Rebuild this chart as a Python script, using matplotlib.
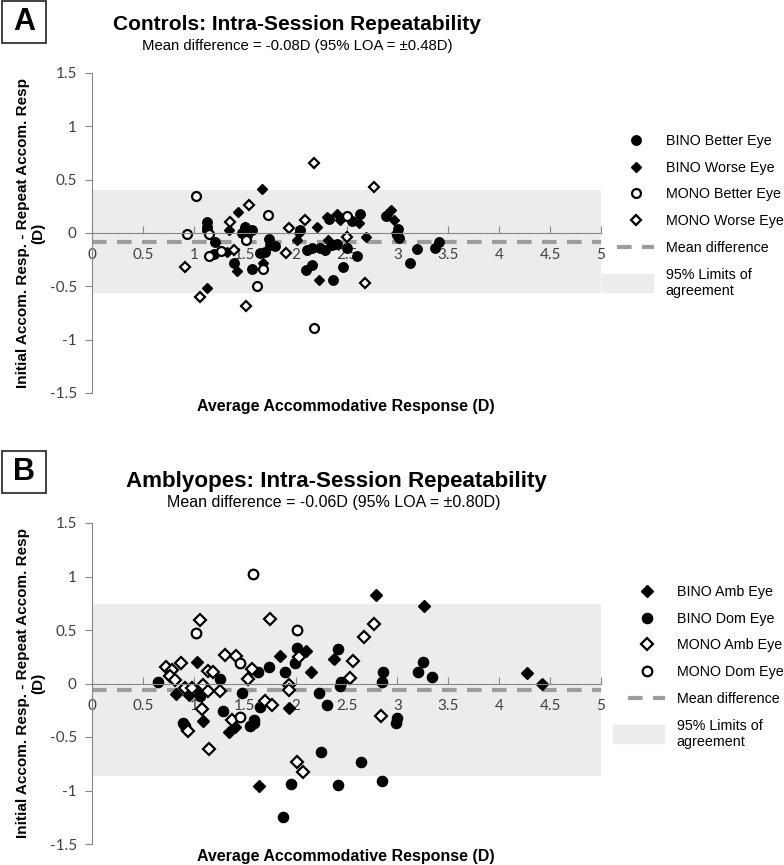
import numpy as np
import matplotlib.pyplot as plt
from matplotlib.patches import Rectangle, Patch
from matplotlib.lines import Line2D
from matplotlib.legend_handler import HandlerPatch
from matplotlib.ticker import FuncFormatter, MultipleLocator

plt.rcParams['font.family'] = ['Liberation Sans', 'DejaVu Sans']

#
# Panel A: controls (average response, difference)
#
ctl_bino_better_x = [1.13, 1.13, 1.13, 1.21, 1.20, 1.39, 1.50, 1.57, 1.47, 1.52, 1.74, 1.75, 1.80, 1.65,
                     1.70, 1.57, 2.04, 2.11, 2.10, 2.16, 2.37, 2.47, 2.60, 2.50, 2.16, 2.24, 2.29, 2.36,
                     2.41, 2.33, 2.55, 2.63, 2.89, 3.01, 3.00, 3.02, 3.19, 3.12, 3.41, 3.37]
ctl_bino_better_y = [0.10, 0.06, 0.03, -0.08, -0.20, -0.28, 0.06, 0.03, 0.00, -0.02, -0.06, -0.11, -0.12, -0.19,
                     -0.18, -0.34, 0.03, -0.16, -0.35, -0.30, -0.44, -0.32, -0.22, -0.14, -0.14, -0.14, -0.16, -0.11,
                     -0.10, 0.13, 0.11, 0.18, 0.16, 0.04, -0.02, -0.05, -0.15, -0.28, -0.08, -0.14]
ctl_bino_worse_x = [1.67, 1.43, 1.35, 1.33, 1.42, 1.13, 1.50, 1.68, 2.03, 2.01, 2.23, 2.32, 2.69, 2.21,
                    2.31, 2.41, 2.44, 2.62, 2.94, 2.90, 2.97, 2.99]
ctl_bino_worse_y = [0.41, 0.20, 0.03, -0.18, -0.36, -0.52, 0.06, -0.28, 0.00, -0.07, -0.44, -0.07, -0.04, 0.06,
                    0.15, 0.18, 0.12, 0.09, 0.22, 0.18, 0.12, 0.00]
ctl_mono_better_x = [1.02, 1.73, 0.93, 1.15, 1.27, 1.15, 1.62, 1.51, 1.68, 2.18, 2.50]
ctl_mono_better_y = [0.35, 0.17, -0.01, -0.01, -0.17, -0.22, -0.50, -0.07, -0.34, -0.89, 0.16]
ctl_mono_worse_x = [1.54, 1.36, 1.39, 0.91, 1.06, 1.51, 1.91, 1.94, 2.09, 2.18, 2.77, 2.68, 2.50]
ctl_mono_worse_y = [0.26, 0.10, -0.16, -0.32, -0.60, -0.68, -0.19, 0.05, 0.12, 0.66, 0.43, -0.47, -0.04]
ctl_mean, ctl_loa = -0.08, 0.48

#
# Panel B: amblyopes
#
amb_bino_amb_x = [2.10, 1.85, 1.03, 0.83, 0.95, 1.94, 1.09, 1.35, 1.40, 1.64, 2.79, 3.26, 2.38, 2.15,
                  4.27, 4.42]
amb_bino_amb_y = [0.30, 0.26, 0.20, -0.10, -0.11, -0.23, -0.35, -0.45, -0.41, -0.96, 0.83, 0.72, 0.23, 0.11,
                  0.10, 0.00]
amb_bino_dom_x = [2.01, 1.99, 1.74, 1.90, 1.63, 1.26, 0.65, 1.06, 1.06, 1.47, 1.65, 1.29, 1.59, 0.89,
                  0.91, 1.55, 1.59, 2.31, 2.25, 2.64, 1.95, 2.42, 2.85, 1.88, 2.42, 2.86, 3.25, 3.20,
                  3.34, 2.45, 2.44, 2.85, 2.23, 3.00, 2.99]
amb_bino_dom_y = [0.33, 0.19, 0.15, 0.11, 0.11, 0.04, 0.01, -0.09, -0.12, -0.09, -0.22, -0.26, -0.34, -0.37,
                  -0.40, -0.40, -0.37, -0.20, -0.64, -0.73, -0.94, -0.95, -0.91, -1.25, 0.32, 0.11, 0.20, 0.11,
                  0.06, 0.01, -0.02, 0.01, -0.09, -0.32, -0.37]
amb_mono_amb_x = [1.06, 1.75, 2.03, 1.57, 1.53, 1.31, 1.41, 1.14, 1.19, 0.73, 0.79, 0.87, 0.77, 0.82,
                  0.91, 0.98, 1.09, 1.14, 1.26, 1.94, 1.94, 1.70, 1.77, 1.08, 1.38, 0.94, 1.15, 2.01,
                  2.07, 2.84, 2.77, 2.67, 2.56, 2.53]
amb_mono_amb_y = [0.59, 0.60, 0.25, 0.14, 0.04, 0.27, 0.26, 0.12, 0.11, 0.15, 0.13, 0.19, 0.07, 0.03,
                  -0.04, -0.04, -0.01, -0.07, -0.07, -0.01, -0.06, -0.16, -0.20, -0.24, -0.34, -0.44, -0.61, -0.73,
                  -0.83, -0.30, 0.56, 0.43, 0.21, 0.05]
amb_mono_dom_x = [1.58, 1.02, 2.01, 1.45, 1.45]
amb_mono_dom_y = [1.02, 0.47, 0.50, 0.19, -0.31]
amb_mean, amb_loa = -0.06, 0.80

# Figure size (pixels / 100)
fig = plt.figure(figsize=(7.84, 8.65), dpi=100)

axis_grey = "#868686"
band_grey = "#ececec"
mean_grey = "#9c9c9c"


def marker_styles(scale):
    return (dict(marker="o", ls="none", color="black", ms=6.8 * scale),
            dict(marker="D", ls="none", color="black", ms=5.4 * scale),
            dict(marker="o", ls="none", mfc="white", mec="black", mew=1.6, ms=6.4 * scale),
            dict(marker="D", ls="none", mfc="white", mec="black", mew=1.6, ms=5.2 * scale))


def big_patch(legend, orig_handle, xdescent, ydescent, width, height, fontsize):
    # wide swatch like the original legend
    return Rectangle((-xdescent - 11, -ydescent - 3), width + 10, height + 6)


def setup_axes(ax, mean, loa):
    ax.axhspan(mean - loa, mean + loa, color=band_grey, lw=0, zorder=0)
    ax.axhline(mean, color=mean_grey, lw=3, dashes=(3.5, 2.5), zorder=1)
    ax.set_xlim(0, 5)
    ax.set_ylim(-1.5, 1.5)
    ax.xaxis.set_major_locator(MultipleLocator(0.5))
    ax.yaxis.set_major_locator(MultipleLocator(0.5))
    fmt = FuncFormatter(lambda v, p: "{:g}".format(round(v, 2)))
    ax.xaxis.set_major_formatter(fmt)
    ax.yaxis.set_major_formatter(fmt)
    for s in ("top", "right"):
        ax.spines[s].set_visible(False)
    ax.spines["bottom"].set_position(("data", 0))
    ax.spines["bottom"].set_color(axis_grey)
    ax.spines["left"].set_color(axis_grey)
    ax.tick_params(axis="x", direction="in", length=5, color=axis_grey, pad=11,
                   labelsize=11, labelcolor="#404040")
    ax.tick_params(axis="y", direction="out", length=5, color=axis_grey, pad=6,
                   labelsize=11, labelcolor="#404040")
    for lab in ax.get_xticklabels() + ax.get_yticklabels():
        lab.set_family(["Lato", "DejaVu Sans"])
    ax.set_ylabel("Initial Accom. Resp. - Repeat Accom. Resp\n(D)", fontsize=11,
                  fontweight="bold", labelpad=3, linespacing=1.1)
    ax.patch.set_visible(False)


def add_legend(ax, handles, labels, x0, y0):
    ax.legend(handles, labels, loc="upper left", bbox_to_anchor=(x0 / 784, 1 - y0 / 865),
              bbox_transform=fig.transFigure, frameon=False, fontsize=10.3, labelspacing=0.89,
              handlelength=2.6, handletextpad=0.8, borderpad=0, borderaxespad=0,
              handler_map={Patch: HandlerPatch(patch_func=big_patch)})


def panel_label(letter, y0):
    fig.add_artist(Rectangle((2 / 784, y0), 44 / 784, 42 / 865, transform=fig.transFigure,
                             fill=False, ec="#333333", lw=1.3))
    fig.text(24 / 784, y0 + 21 / 865, letter, fontsize=22, fontweight="bold",
             ha="center", va="center")


# ----- Panel A -----
fc, fd, oc, od = marker_styles(1.0)
axA = fig.add_axes([92 / 784, 1 - 393 / 865, 509 / 784, 320 / 865])
setup_axes(axA, ctl_mean, ctl_loa)
axA.plot(ctl_bino_better_x, ctl_bino_better_y, **fc)
axA.plot(ctl_bino_worse_x, ctl_bino_worse_y, **fd)
axA.plot(ctl_mono_better_x, ctl_mono_better_y, **oc)
axA.plot(ctl_mono_worse_x, ctl_mono_worse_y, **od)

handlesA = [Line2D([], [], **fc), Line2D([], [], **fd),
            Line2D([], [], **oc), Line2D([], [], **od),
            Line2D([], [], color=mean_grey, lw=3, dashes=(3.5, 2.5)),
            Patch(color=band_grey)]
labelsA = ["BINO Better Eye", "BINO Worse Eye", "MONO Better Eye", "MONO Worse Eye",
           "Mean difference", "95% Limits of\nagreement"]
add_legend(axA, handlesA, labelsA, 617, 134)

panel_label("A", 1 - 43 / 865)
fig.text(297 / 784, 1 - 25 / 865, "Controls: Intra-Session Repeatability", fontsize=15,
         fontweight="bold", ha="center", va="center")
fig.text(297 / 784, 1 - 46 / 865, "Mean difference = -0.08D (95% LOA = \u00b10.48D)",
         fontsize=10.7, ha="center", va="center")
fig.text(346 / 784, 1 - 406 / 865, "Average Accommodative Response (D)", fontsize=11.5,
         fontweight="bold", ha="center", va="center")

# ----- Panel B -----
fc, fd, oc, od = marker_styles(1.08)
axB = fig.add_axes([92 / 784, 1 - 844 / 865, 509 / 784, 321 / 865])
setup_axes(axB, amb_mean, amb_loa)
axB.plot(amb_bino_amb_x, amb_bino_amb_y, **fd)
axB.plot(amb_bino_dom_x, amb_bino_dom_y, **fc)
axB.plot(amb_mono_amb_x, amb_mono_amb_y, **od)
axB.plot(amb_mono_dom_x, amb_mono_dom_y, **oc)

handlesB = [Line2D([], [], **fd), Line2D([], [], **fc),
            Line2D([], [], **od), Line2D([], [], **oc),
            Line2D([], [], color=mean_grey, lw=3, dashes=(3.5, 2.5)),
            Patch(color=band_grey)]
labelsB = ["BINO Amb Eye", "BINO Dom Eye", "MONO Amb Eye", "MONO Dom Eye",
           "Mean difference", "95% Limits of\nagreement"]
add_legend(axB, handlesB, labelsB, 628, 585)

panel_label("B", 1 - 493 / 865)
fig.text(336 / 784, 1 - 481 / 865, "Amblyopes: Intra-Session Repeatability", fontsize=16.1,
         fontweight="bold", ha="center", va="center")
fig.text(334 / 784, 1 - 502 / 865, "Mean difference = -0.06D (95% LOA = \u00b10.80D)",
         fontsize=11.5, ha="center", va="center")
fig.text(346 / 784, 1 - 856 / 865, "Average Accommodative Response (D)", fontsize=11.5,
         fontweight="bold", ha="center", va="center")

fig.savefig("out.png", dpi=100)
